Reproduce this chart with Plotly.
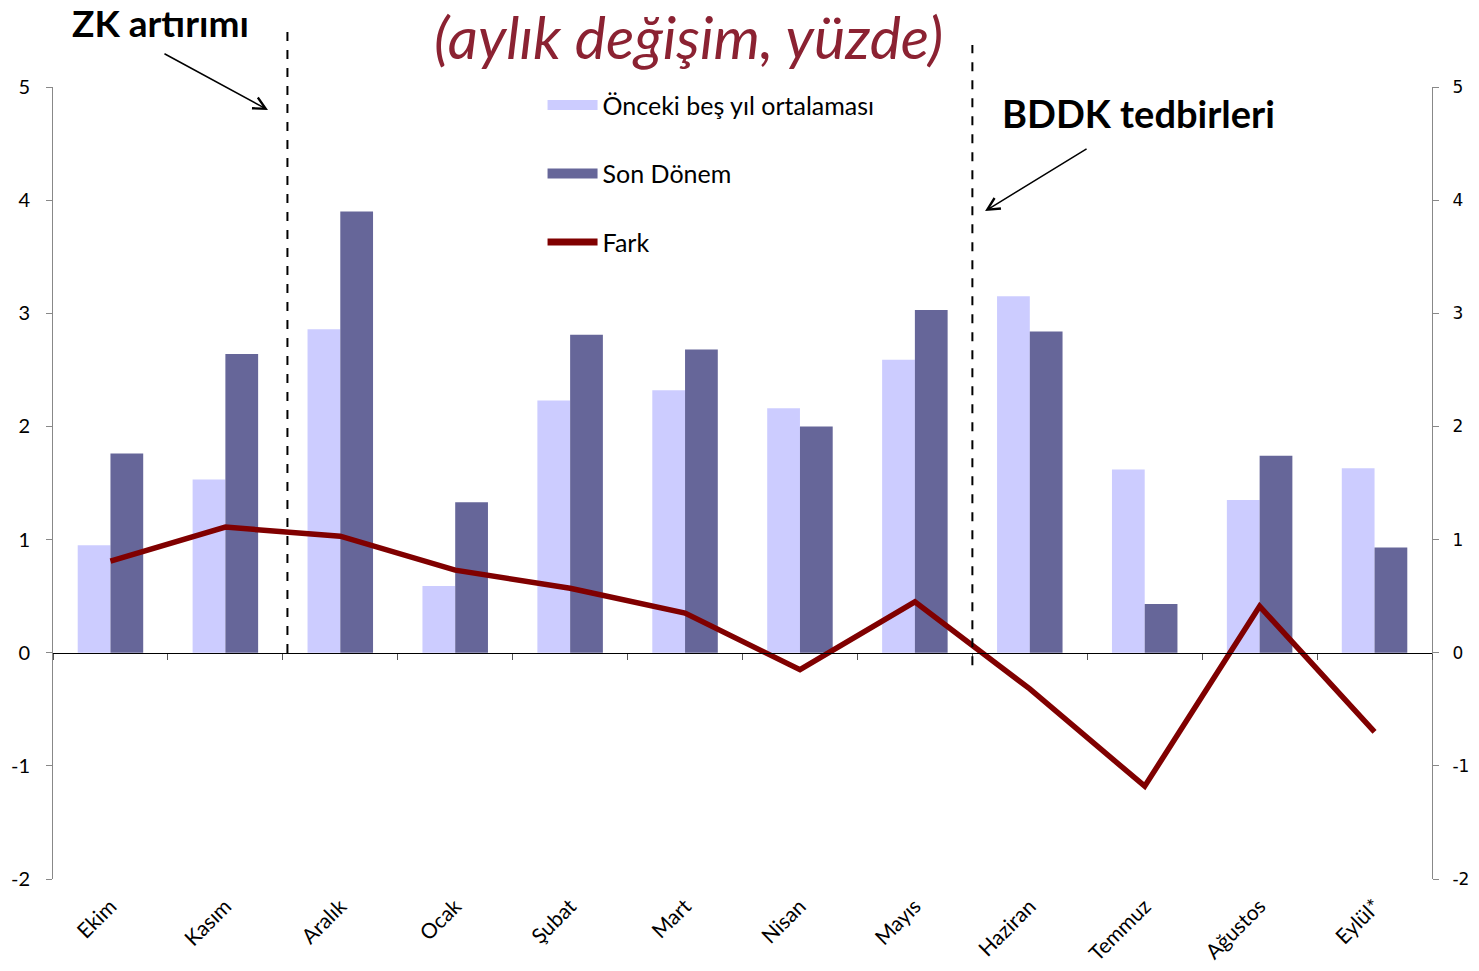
import plotly.graph_objects as go

months = ["Ekim", "Kasım", "Aralık", "Ocak", "Şubat", "Mart", "Nisan", "Mayıs",
          "Haziran", "Temmuz", "Ağustos", "Eylül*"]
onceki = [0.95, 1.53, 2.86, 0.59, 2.23, 2.32, 2.16, 2.59, 3.15, 1.62, 1.35, 1.63]
son_donem = [1.76, 2.64, 3.90, 1.33, 2.81, 2.68, 2.00, 3.03, 2.84, 0.43, 1.74, 0.93]
fark = [0.81, 1.11, 1.03, 0.73, 0.57, 0.35, -0.15, 0.45, -0.32, -1.18, 0.41, -0.70]

y_ticks = [-2, -1, 0, 1, 2, 3, 4, 5]
y_ticktext = [str(v) for v in y_ticks]
y_range = [-2, 5]

LIGHT = "#CCCCFF"
DARK = "#666699"
RED = "#800000"
FONT = "Lato"

fig = go.Figure()
fig.add_trace(go.Bar(x=months, y=onceki, name="Önceki beş yıl ortalaması",
                     marker=dict(color=LIGHT, line=dict(width=0)), showlegend=False))
fig.add_trace(go.Bar(x=months, y=son_donem, name="Son Dönem",
                     marker=dict(color=DARK, line=dict(width=0)), showlegend=False))
fig.add_trace(go.Scatter(x=months, y=fark, name="Fark", mode="lines",
                         line=dict(color=RED, width=5.5), xaxis="x2", yaxis="y2",
                         showlegend=False))

# legend entries
for nm, col, w, grp in [("Önceki beş yıl ortalaması", LIGHT, 16, "a"),
                        ("Son Dönem", DARK, 16, "b"),
                        ("Fark", RED, 7, "c")]:
    fig.add_trace(go.Scatter(x=[None], y=[None], name=nm, mode="lines",
                             line=dict(color=col, width=w), legendgroup=grp,
                             xaxis="x2", yaxis="y2"))

fig.update_layout(
    width=1479, height=971,
    margin=dict(l=53, r=47, t=87, b=92, autoexpand=False),
    paper_bgcolor="white", plot_bgcolor="white",
    font=dict(family=FONT, size=18, color="black"),
    barmode="group", bargap=0.43, bargroupgap=0,
    showlegend=True,
    legend=dict(x=0.355, y=1.006, xanchor="left", yanchor="top",
                font=dict(size=25, family=FONT), itemwidth=50,
                tracegroupgap=33, bgcolor="rgba(0,0,0,0)", itemclick=False),
    xaxis=dict(type="category", categoryarray=months, range=[-0.5, 11.5],
               showline=False, ticks="", tickangle=-45, showgrid=False,
               tickfont=dict(size=21, family=FONT), zeroline=False, automargin=False,
               ticklabelstandoff=10),
    xaxis2=dict(type="category", categoryarray=months, range=[-0.5, 11.5],
                overlaying="x", anchor="free", position=2 / 7,
                showline=True, linecolor="black", linewidth=1,
                ticks="outside", tickson="boundaries", ticklen=6,
                tickcolor="#555555", showticklabels=False, showgrid=False,
                automargin=False),
    yaxis=dict(range=y_range, tickvals=y_ticks, ticktext=y_ticktext,
               showgrid=False, zeroline=False,
               showline=True, linecolor="#888888", linewidth=1,
               ticks="outside", ticklen=6, tickcolor="#888888",
               tickfont=dict(size=20, family=FONT), ticklabelstandoff=12,
               automargin=False),
    yaxis2=dict(range=y_range, tickvals=y_ticks, ticktext=y_ticktext,
                overlaying="y", side="right",
                anchor="x", showgrid=False, zeroline=False,
                showline=True, linecolor="#888888", linewidth=1,
                ticks="outside", ticklen=6, tickcolor="#888888",
                tickfont=dict(size=17, family="DejaVu Sans"), ticklabelstandoff=10,
                automargin=False),
)

# dashed event lines
fig.add_shape(type="line", xref="paper", yref="paper", x0=0.170, x1=0.170,
              y0=0.2854, y1=1.072, line=dict(color="black", width=2, dash="dash"))
fig.add_shape(type="line", xref="paper", yref="paper", x0=0.6667, x1=0.6667,
              y0=0.270, y1=1.053, line=dict(color="black", width=2, dash="dash"))

# texts
fig.add_annotation(text="(aylık değişim, yüzde)", xref="paper", yref="paper",
                   x=0.4605, y=1.0632, xanchor="center", yanchor="middle",
                   showarrow=False,
                   font=dict(family=FONT, size=59, color="#8B2232", style="italic"))
fig.add_annotation(text="<b>ZK artırımı</b>", xref="paper", yref="paper",
                   x=0.0783, y=1.0820, xanchor="center", yanchor="middle",
                   showarrow=False,
                   font=dict(family=FONT, size=37, color="black"))
fig.add_annotation(text="<b>BDDK tedbirleri</b>", xref="paper", yref="paper",
                   x=0.7875, y=0.9672, xanchor="center", yanchor="middle",
                   showarrow=False,
                   font=dict(family=FONT, size=38, color="black"))

# arrows
fig.add_annotation(text="", xref="paper", yref="paper", x=0.1559, y=0.971,
                   ax=-105, ay=-57, showarrow=True, arrowhead=5, arrowsize=1.6,
                   arrowwidth=1.5, arrowcolor="black")
fig.add_annotation(text="", xref="paper", yref="paper", x=0.6759, y=0.8434,
                   ax=103, ay=-63, showarrow=True, arrowhead=5, arrowsize=1.6,
                   arrowwidth=1.5, arrowcolor="black")

fig.write_html(
    "out.html",
    config={"displayModeBar": False},
    post_script="document.body.style.margin='0';document.body.style.overflow='hidden';",
)
